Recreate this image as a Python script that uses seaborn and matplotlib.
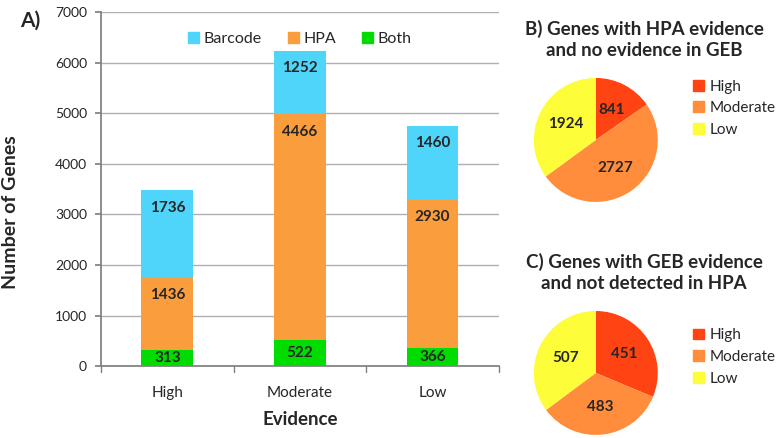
# -*- coding: utf-8 -*-
"""
Evidencia de genes: barras apiladas (A) y dos tortas (B, C).
"""
import numpy as np
import pandas as pd
import matplotlib
matplotlib.use("Agg")
import matplotlib.pyplot as plt
from matplotlib.patches import Patch
import seaborn as sns

# -------- Datos --------
categorias = ["High", "Moderate", "Low"]
both = [313, 522, 366]
hpa = [1436, 4466, 2930]
barcode = [1736, 1252, 1460]

pie_labels = ["High", "Moderate", "Low"]
pie_b = [841, 2727, 1924]
pie_c = [451, 483, 507]

# -------- Estilo --------
COL_BARCODE = "#4fd4fa"
COL_HPA = "#fa9d3c"
COL_BOTH = "#00dc00"
PIE_COLS = ["#ff4312", "#ff8d3b", "#fdfd3a"]

sns.set_theme(style="white")
plt.rcParams["font.family"] = ["Lato", "DejaVu Sans"]

fig = plt.figure(figsize=(7.77, 4.38), dpi=100)

# ---- A) barras apiladas ----
ax = fig.add_axes([0.130, 0.164, 0.512, 0.808])
df = pd.DataFrame({"cat": categorias, "both": both, "hpa": hpa, "barcode": barcode})
df["tope_hpa"] = df["both"] + df["hpa"]
df["total"] = df["tope_hpa"] + df["barcode"]

ax.yaxis.grid(True, color="#b0b0b0", linewidth=1)
ax.set_axisbelow(True)
for col, c, z in [("total", COL_BARCODE, 2), ("tope_hpa", COL_HPA, 3), ("both", COL_BOTH, 4)]:
    sns.barplot(data=df, x="cat", y=col, color=c, width=0.39, saturation=1,
                linewidth=0, ax=ax, zorder=z)


# etiqueta cerca del tope del segmento (estilo Excel), centrada si el segmento es chico
def pos_etiqueta(base, tope):
    return max(tope - 350, (base + tope) / 2)


for i, r in df.iterrows():
    segs = [(0, r["both"], r["both"]),
            (r["both"], r["tope_hpa"], r["hpa"]),
            (r["tope_hpa"], r["total"], r["barcode"])]
    for base, tope, val in segs:
        ax.text(i, pos_etiqueta(base, tope), f"{val}", ha="center", va="center",
                fontsize=11, fontweight="bold", zorder=5)

ax.set_ylim(0, 7000)
ax.set_xlim(-0.5, 2.5)
ax.set_yticks(range(0, 7001, 1000))
ax.tick_params(axis="y", labelsize=10, length=4, left=True, color="#808080", pad=6)
ax.tick_params(axis="x", labelsize=11, length=0, pad=14)
for xb in [-0.5, 0.5, 1.5, 2.5]:
    ax.plot([xb, xb], [0, -120], color="#808080", lw=1, clip_on=False)
for s in ["top", "right"]:
    ax.spines[s].set_visible(False)
ax.spines["left"].set_color("#808080")
ax.spines["bottom"].set_color("#808080")
ax.set_xlabel("Evidence", fontsize=13.5, fontweight="bold", labelpad=8)
ax.set_ylabel("Number of Genes", fontsize=14, fontweight="bold")
ax.yaxis.set_label_coords(-0.205, 0.435)
ax.legend(handles=[Patch(color=COL_BARCODE, label="Barcode"),
                   Patch(color=COL_HPA, label="HPA"),
                   Patch(color=COL_BOTH, label="Both")],
          loc="upper center", bbox_to_anchor=(0.5, 0.985), ncol=3, frameon=False,
          fontsize=11.5, handlelength=0.7, handleheight=0.7, handletextpad=0.3,
          columnspacing=1.6)
fig.text(0.026, 0.953, "A)", fontsize=15, fontweight="bold", ha="left", va="center")


# ---- B) y C) tortas ----
def torta(rect, valores, titulo, y_titulo):
    axp = fig.add_axes(rect)
    total = sum(valores)
    axp.pie(valores, colors=PIE_COLS, startangle=90, counterclock=False,
            autopct=lambda p: f"{int(round(p * total / 100))}", pctdistance=0.55,
            wedgeprops={"linewidth": 0},
            textprops={"fontsize": 11, "fontweight": "bold"})
    axp.set_xlim(-1, 1)
    axp.set_ylim(-1, 1)
    fig.text(0.829, y_titulo, titulo, ha="center", va="center", fontsize=13.5,
             fontweight="bold", linespacing=1.3)
    return axp


axb = torta([0.687, 0.539, 0.1596, 0.283], pie_b,
            "B) Genes with HPA evidence\nand no evidence in GEB", 0.910)
axc = torta([0.687, 0.007, 0.1596, 0.283], pie_c,
            "C) Genes with GEB evidence\nand not detected in HPA", 0.378)

for axp, y0 in [(axb, 0.753), (axc, 0.185)]:
    fig.legend(handles=[Patch(color=c, label=l) for c, l in zip(PIE_COLS, pie_labels)],
               loc="center left", bbox_to_anchor=(0.884, y0), frameon=False,
               fontsize=11, handlelength=0.7, handleheight=0.7, handletextpad=0.4,
               labelspacing=0.5, borderaxespad=0)

fig.savefig("out.png", dpi=100)
